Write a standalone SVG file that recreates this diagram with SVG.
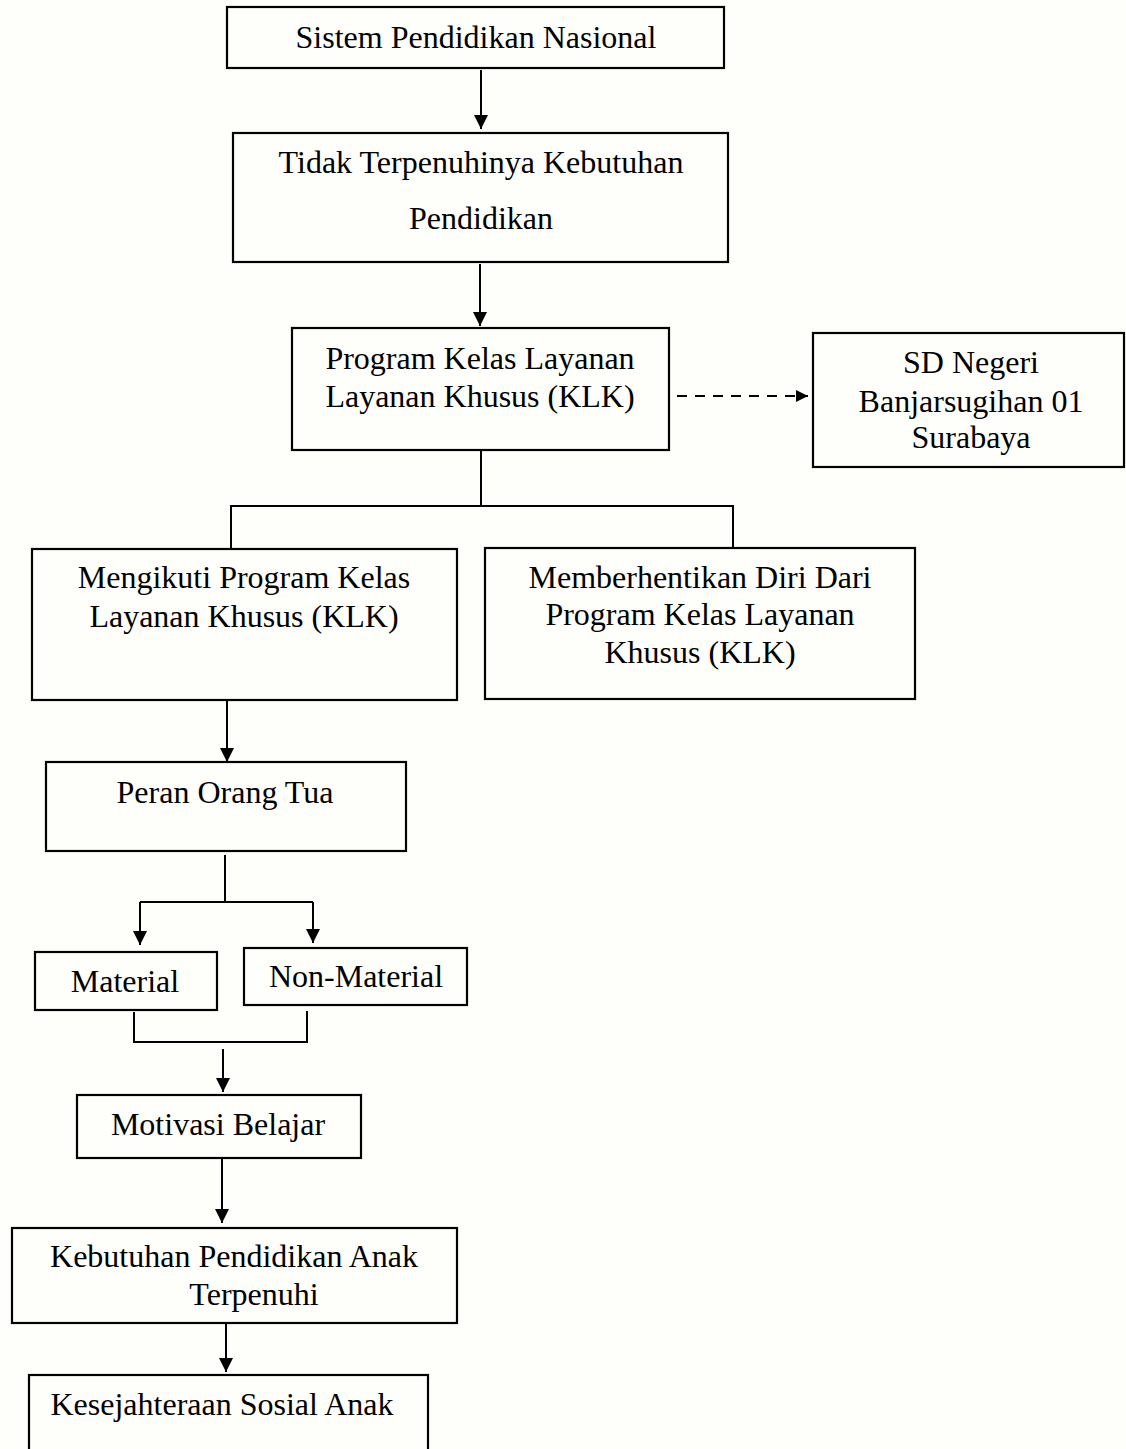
<svg xmlns="http://www.w3.org/2000/svg" width="1126" height="1449" viewBox="0 0 1126 1449">
<defs>
<marker id="ah" viewBox="0 0 10 10" refX="10" refY="5" markerUnits="userSpaceOnUse" markerWidth="14" markerHeight="14" orient="auto">
<path d="M0,0 L10,5 L0,10 z" fill="#000"/>
</marker>
<marker id="ahs" viewBox="0 0 10 10" refX="10" refY="5" markerUnits="userSpaceOnUse" markerWidth="13" markerHeight="12" orient="auto">
<path d="M0,0 L10,5 L0,10 z" fill="#000"/>
</marker>
</defs>
<style>
.box{fill:none;stroke:#000;stroke-width:2.2}
.t{font-family:"Liberation Serif","Times New Roman",serif;font-size:32px;fill:#000;text-anchor:middle}
.c{fill:none;stroke:#000;stroke-width:2}
.a{fill:none;stroke:#000;stroke-width:2;marker-end:url(#ah)}
.d{fill:none;stroke:#000;stroke-width:2;stroke-dasharray:10,8;marker-end:url(#ahs)}
</style>
<rect x="0" y="0" width="1126" height="1449" fill="#fefefb"/>

<g id="connectors">
<line class="a" x1="481" y1="70" x2="481" y2="129"/>
<line class="a" x1="480" y1="264" x2="480" y2="326"/>
<line class="d" x1="677" y1="396" x2="808" y2="396"/>
<polyline class="c" points="481,450 481,505"/>
<polyline class="c" points="231,549 231,506 733,506 733,548"/>
<line class="a" x1="227" y1="700" x2="227" y2="762"/>
<polyline class="c" points="225,855 225,902"/>
<polyline class="c" points="140,902 313,902"/>
<line class="a" x1="140" y1="902" x2="140" y2="945"/>
<line class="a" x1="313" y1="902" x2="313" y2="943"/>
<polyline class="c" points="134,1012 134,1042 307,1042 307,1011"/>
<line class="a" x1="223" y1="1049" x2="223" y2="1092"/>
<line class="a" x1="222" y1="1158" x2="222" y2="1223"/>
<line class="a" x1="226" y1="1323" x2="226" y2="1372"/>
</g>

<g id="n-sistem">
<rect class="box" x="227" y="7" width="497" height="61"/>
<text class="t" x="476" y="48">Sistem Pendidikan Nasional</text>
</g>
<g id="n-tidak">
<rect class="box" x="233" y="133" width="495" height="129"/>
<text class="t" x="481" y="173">Tidak Terpenuhinya Kebutuhan</text>
<text class="t" x="481" y="229">Pendidikan</text>
</g>
<g id="n-program">
<rect class="box" x="292" y="328" width="377" height="122"/>
<text class="t" x="480" y="369">Program Kelas Layanan</text>
<text class="t" x="480" y="407">Layanan Khusus (KLK)</text>
</g>
<g id="n-sd">
<rect class="box" x="813" y="333" width="311" height="134"/>
<text class="t" x="971" y="373">SD Negeri</text>
<text class="t" x="971" y="412">Banjarsugihan 01</text>
<text class="t" x="971" y="448">Surabaya</text>
</g>
<g id="n-mengikuti">
<rect class="box" x="32" y="549" width="425" height="151"/>
<text class="t" x="244" y="588">Mengikuti Program Kelas</text>
<text class="t" x="244" y="627">Layanan Khusus (KLK)</text>
</g>
<g id="n-berhenti">
<rect class="box" x="485" y="548" width="430" height="151"/>
<text class="t" x="700" y="588">Memberhentikan Diri Dari</text>
<text class="t" x="700" y="625">Program Kelas Layanan</text>
<text class="t" x="700" y="663">Khusus (KLK)</text>
</g>
<g id="n-peran">
<rect class="box" x="46" y="762" width="360" height="89"/>
<text class="t" x="225" y="803">Peran Orang Tua</text>
</g>
<g id="n-material">
<rect class="box" x="35" y="952" width="182" height="58"/>
<text class="t" x="125" y="992">Material</text>
</g>
<g id="n-nonmaterial">
<rect class="box" x="244" y="948" width="223" height="57"/>
<text class="t" x="356" y="987">Non-Material</text>
</g>
<g id="n-motivasi">
<rect class="box" x="77" y="1095" width="284" height="63"/>
<text class="t" x="218" y="1135">Motivasi Belajar</text>
</g>
<g id="n-kebutuhan">
<rect class="box" x="12" y="1228" width="445" height="95"/>
<text class="t" x="234" y="1267">Kebutuhan Pendidikan Anak</text>
<text class="t" x="254" y="1305">Terpenuhi</text>
</g>
<g id="n-kesejahteraan">
<rect class="box" x="29" y="1375" width="399" height="90"/>
<text class="t" x="222" y="1415">Kesejahteraan Sosial Anak</text>
</g>
</svg>
